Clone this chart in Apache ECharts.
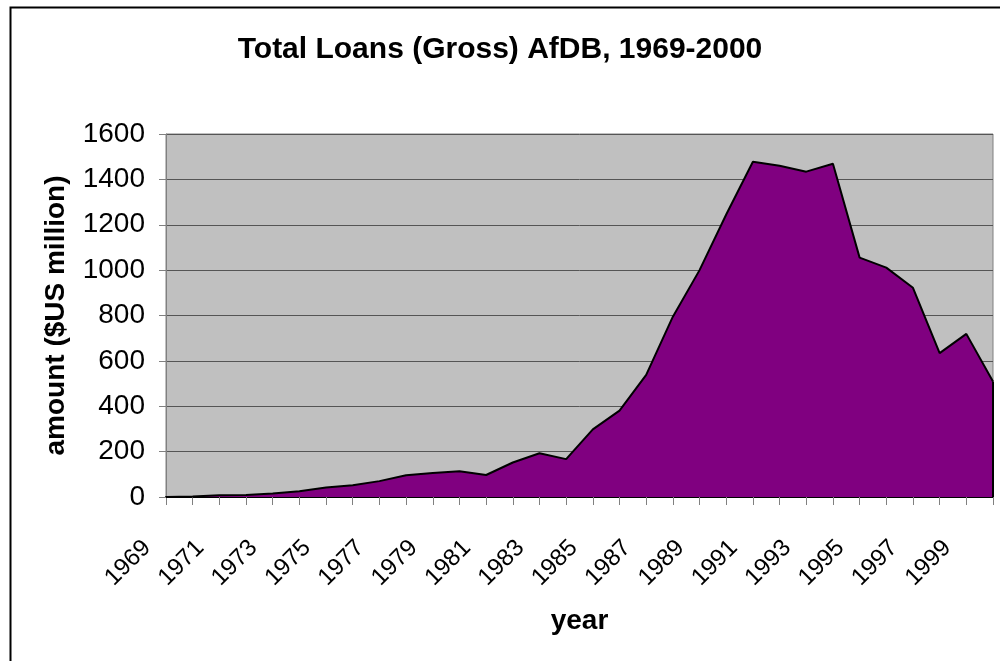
<!DOCTYPE html>
<html>
<head>
<meta charset="utf-8">
<script src="https://cdn.jsdelivr.net/npm/echarts@6/dist/echarts.min.js"></script>
<style>
html,body{margin:0;padding:0;background:#fff;}
#chart{width:1000px;height:661px;}
</style>
</head>
<body>
<div id="chart"></div>
<script>
var years = ['1969','1970','1971','1972','1973','1974','1975','1976','1977','1978','1979','1980','1981','1982','1983','1984','1985','1986','1987','1988','1989','1990','1991','1992','1993','1994','1995','1996','1997','1998','1999','2000'];
var loans = [0,2,8,9,15,25,42,52,70,96,106,114,97,152,193,167,298,381,538,795,1000,1245,1478,1460,1434,1469,1055,1011,922,634,719,509];
var yTicks = {min:0, max:1600, interval:200};
var titleText = 'Total Loans (Gross) AfDB, 1969-2000';
var xName = 'year';
var yName = 'amount ($US million)';

var FONT = '"Liberation Sans", Arial, sans-serif';
var chart = echarts.init(document.getElementById('chart'), null, {renderer:'canvas'});
var lastIdx = years.length - 1;
chart.setOption({
  backgroundColor:'#ffffff',
  animation:false,
  graphic:[{
    type:'rect', left:8, top:5, z:100, silent:true,
    shape:{x:0,y:0,width:1010,height:700},
    style:{fill:'none', stroke:'#000', lineWidth:2}
  }],
  title:{
    text:titleText, left:'center', top:30,
    textStyle:{fontFamily:FONT, fontSize:30, fontWeight:'bold', color:'#000'}
  },
  grid:{
    left:166, top:134, right:7, bottom:164,
    show:true, backgroundColor:'#C0C0C0', borderColor:'#808080', borderWidth:1
  },
  xAxis:{
    type:'category', data:years, boundaryGap:false,
    name:xName, nameLocation:'middle', nameGap:110,
    nameTextStyle:{fontFamily:FONT, fontSize:28, fontWeight:'bold', color:'#000'},
    axisLine:{show:true, lineStyle:{color:'#000', width:2}},
    axisTick:{show:true, interval:0, length:8, lineStyle:{color:'#808080', width:1}},
    axisLabel:{interval:1, rotate:45, margin:28, padding:[0,27,0,0], fontFamily:FONT, fontSize:24, color:'#000'},
    splitLine:{show:false}
  },
  yAxis:{
    type:'value', min:yTicks.min, max:yTicks.max, interval:yTicks.interval,
    name:yName, nameLocation:'middle', nameGap:96,
    nameTextStyle:{fontFamily:FONT, fontSize:28, fontWeight:'bold', color:'#000'},
    axisLine:{show:true, lineStyle:{color:'#808080', width:1}},
    axisTick:{show:true, length:7, lineStyle:{color:'#808080', width:1}},
    axisLabel:{margin:21, fontFamily:FONT, fontSize:28, color:'#000', formatter:function(v){return String(v);}},
    splitLine:{show:true, lineStyle:{color:'#555555', width:1}}
  },
  series:[{
    type:'line', data:loans, symbol:'none',
    lineStyle:{color:'#000', width:2},
    areaStyle:{color:'#800080', opacity:1},
    markLine:{
      silent:true, symbol:['none','none'], label:{show:false},
      lineStyle:{color:'#000', width:2, type:'solid'},
      data:[[{xAxis:years[lastIdx], yAxis:0},{xAxis:years[lastIdx], yAxis:loans[lastIdx]}]]
    }
  }]
});
</script>
</body>
</html>
